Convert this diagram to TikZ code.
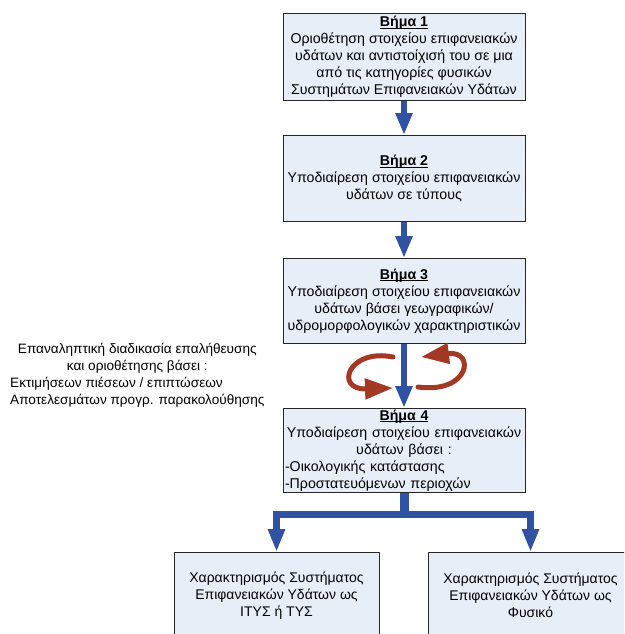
\documentclass[tikz,border=0pt]{standalone}
\usepackage{fontspec}
\setmainfont{Liberation Sans}
\usetikzlibrary{arrows.meta}
\definecolor{boxfill}{RGB}{232,238,247}
\definecolor{flowblue}{RGB}{47,82,162}
\definecolor{loopred}{RGB}{163,57,35}
\newcommand\stephead[1]{\underline{\raisebox{0pt}[\height][0pt]{\textbf{#1}}}}
\begin{document}
\begin{tikzpicture}[x=1pt,y=-1pt,
  txt/.style={font=\fontsize{14.2}{17}\selectfont},
  stepbox/.style={txt, draw=black!85, line width=0.8pt, fill=boxfill,
    minimum width=242pt, inner sep=0pt, align=center, anchor=north},
  endbox/.style={font=\fontsize{14}{17}\selectfont, draw=black!85, line width=0.8pt, fill=boxfill,
    minimum width=205pt, minimum height=86pt, inner sep=0pt, align=center, anchor=north},
  flow/.style={draw=flowblue, line width=6pt, -{Triangle[length=22pt,width=16pt]}},
  branch/.style={draw=flowblue, line width=7pt, line join=miter, -{Triangle[length=23pt,width=16pt]}},
  loop/.style={draw=loopred, line width=5pt, line cap=round, -{Triangle[length=28pt,width=20pt]}},
  ]
\useasboundingbox (0,0) rectangle (624,634);
\clip (0,0) rectangle (624,634);

\node[stepbox, minimum height=87pt] (b1) at (404,13)
  {\stephead{Βήμα 1}\\Οριοθέτηση στοιχείου επιφανειακών\\υδάτων και αντιστοίχισή του σε μια\\από τις κατηγορίες φυσικών\\Συστημάτων Επιφανειακών Υδάτων};
\node[stepbox, minimum height=86pt] (b2) at (404,135)
  {\stephead{Βήμα 2}\\Υποδιαίρεση στοιχείου επιφανειακών\\υδάτων σε τύπους};
\node[stepbox, minimum height=85pt] (b3) at (404,258)
  {\stephead{Βήμα 3}\\Υποδιαίρεση στοιχείου επιφανειακών\\υδάτων βάσει γεωγραφικών/\\υδρομορφολογικών χαρακτηριστικών};
\node[stepbox, minimum height=84pt, text width=238pt, align=left] (b4) at (404,408)
  {\makebox[\linewidth]{\stephead{Βήμα 4}}\\
   \makebox[\linewidth]{Υποδιαίρεση στοιχείου επιφανειακών}\\
   \makebox[\linewidth]{υδάτων βάσει :}\\
   -Οικολογικής κατάστασης\\
   -Προστατευόμενων περιοχών};
\node[endbox] (b5) at (276.5,552)
  {Χαρακτηρισμός Συστήματος\\Επιφανειακών Υδάτων ως\\ΙΤΥΣ ή ΤΥΣ};
\node[endbox] (b6) at (530.5,552)
  {Χαρακτηρισμός Συστήματος\\Επιφανειακών Υδάτων ως\\Φυσικό};

\node[font=\fontsize{13.6}{17}\selectfont, anchor=north west, inner sep=0pt] (note) at (10,341)
  {\begin{tabular}{@{}l@{}}
   \multicolumn{1}{@{}c@{}}{Επαναληπτική διαδικασία επαλήθευσης}\\
   \multicolumn{1}{@{}c@{}}{και οριοθέτησης βάσει :}\\
   Εκτιμήσεων πιέσεων / επιπτώσεων\\
   Αποτελεσμάτων προγρ. παρακολούθησης
   \end{tabular}};

\draw[flow] (b1.south) -- (b2.north);
\draw[flow] (b2.south) -- (b3.north);
\draw[flow] (b3.south) -- (b4.north);

\coordinate (j) at (404,514);
\draw[flowblue, line width=9pt] (b4.south) -- ([yshift=-3.5pt]j);
\draw[branch] (j) -| (b5.north);
\draw[branch] (j) -| (b6.north);

\coordinate (la) at (393,357);
\coordinate (lb) at (393,388);
\coordinate (ra) at (418,387);
\coordinate (rb) at (421,357);
\draw[loop] (la) .. controls (348,348) and (334,390) .. (lb);
\draw[loop] (ra) .. controls (470,394) and (476,350) .. (rb);
\end{tikzpicture}
\end{document}
